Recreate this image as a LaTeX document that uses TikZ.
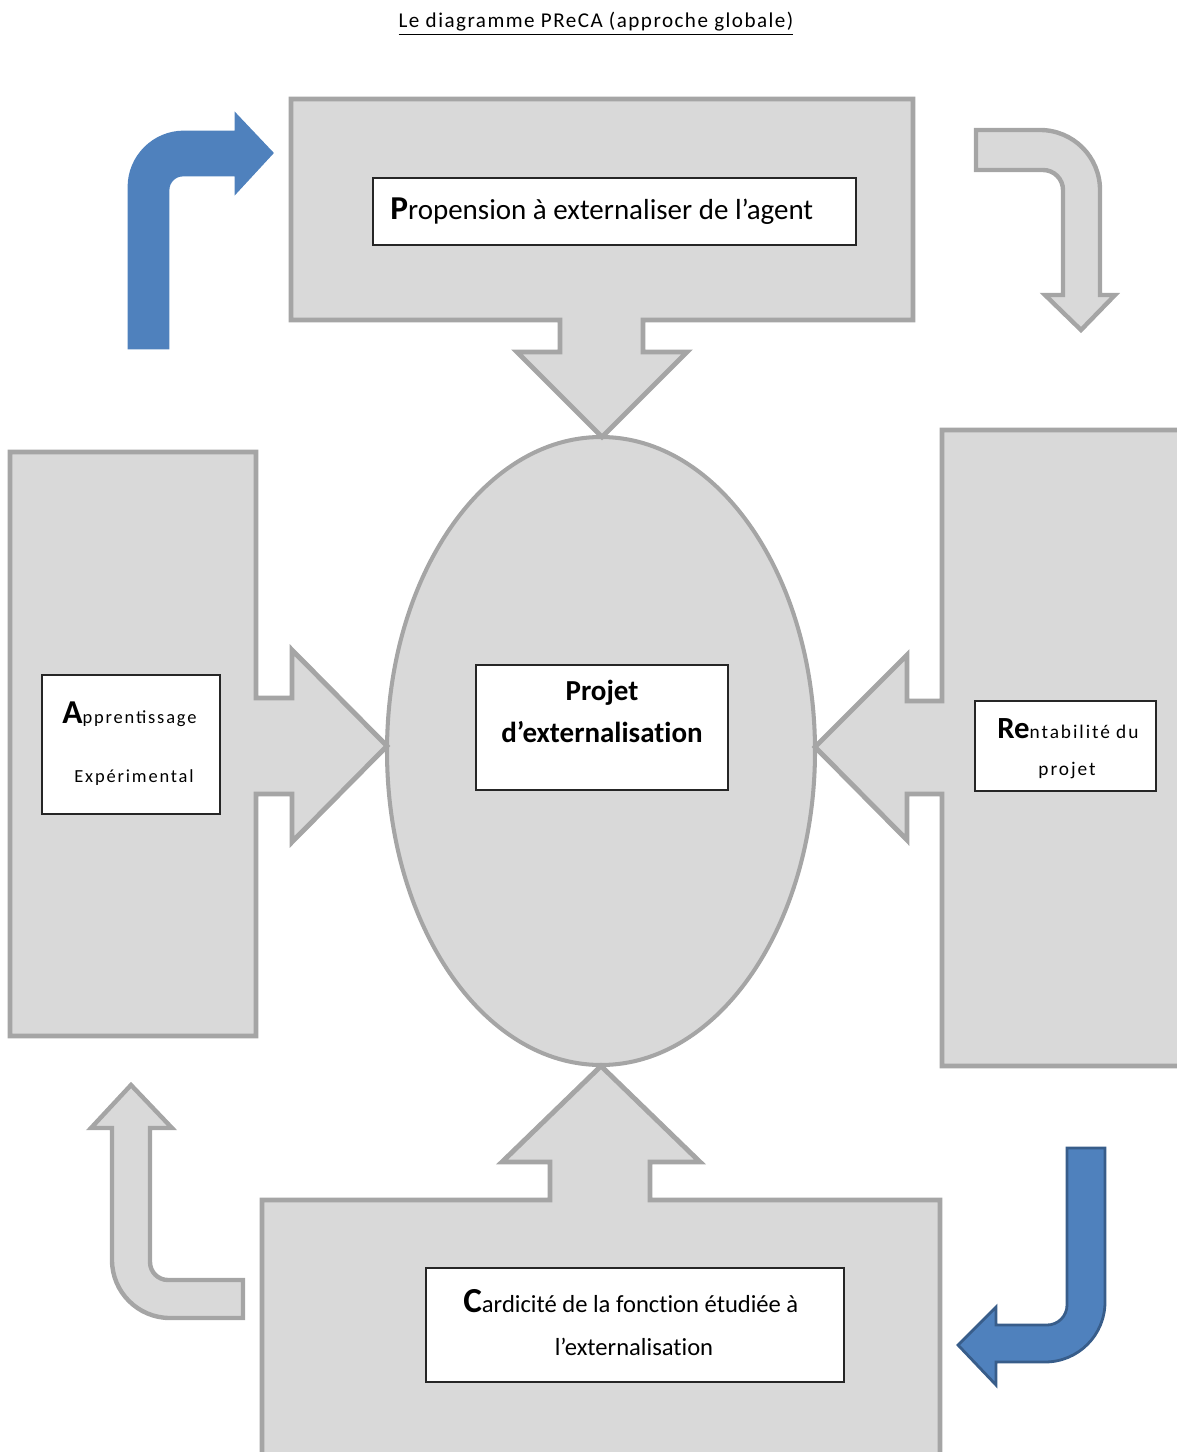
\documentclass[tikz,border=0pt]{standalone}
\usepackage{fontspec}
\setmainfont[Ligatures=NoCommon]{Carlito}
\newfontfamily\titlefont[LetterSpace=7]{Carlito}
\newfontfamily\smallfont[LetterSpace=10]{Carlito}
\usepackage{tikz}
\usetikzlibrary{calc}

\definecolor{boxgray}{HTML}{D9D9D9}
\definecolor{linegray}{HTML}{A5A5A5}
\definecolor{arrowblue}{HTML}{4F81BD}
\definecolor{darkblue}{HTML}{385D8A}

\tikzset{
  bloc/.style={fill=boxgray, draw=linegray, line width=2.8pt, line join=miter},
  cadre/.style={draw=black!85, fill=white, line width=1.1pt},
  fleche/.style={fill=boxgray, draw=linegray, line width=2.5pt},
  flechebleue/.style={fill=arrowblue, draw=darkblue, line width=1.6pt},
  texte/.style={anchor=base, inner sep=0pt}
}

\begin{document}
\begin{tikzpicture}[x=0.02cm, y=-0.02cm]
\useasboundingbox (0,0) rectangle (1176,1452);

% Title
\node[texte] (titre) at (596,28) {\titlefont\fontsize{12}{12}\selectfont\underline{Le diagramme PReCA (approche globale)}};

% Central ellipse
\draw[bloc, line width=2.3pt] (601,751) ellipse [x radius=214, y radius=314];

% Top block with arrow down
\draw[bloc] (291,99) -- (913,99) -- (913,320) -- (643,320) -- (643,352) -- (687,352)
  -- (602,437) -- (517,352) -- (560,352) -- (560,320) -- (291,320) -- cycle;

% Left block with arrow right
\draw[bloc] (10,452) -- (256,452) -- (256,698) -- (292,698) -- (292,650) -- (387,746)
  -- (292,842) -- (292,794) -- (256,794) -- (256,1036) -- (10,1036) -- cycle;

% Right block with arrow left
\draw[bloc] (942,430) -- (1190,430) -- (1190,1066) -- (942,1066) -- (942,794) -- (907,794)
  -- (907,840) -- (815,747) -- (907,655) -- (907,701) -- (942,701) -- cycle;

% Bottom block with arrow up
\draw[bloc] (262,1200) -- (550,1200) -- (550,1162) -- (502,1162) -- (601,1066) -- (700,1162)
  -- (650,1162) -- (650,1200) -- (940,1200) -- (940,1470) -- (262,1470) -- cycle;

% White frames
\draw[cadre] (373,178) rectangle (856,245);
\draw[cadre] (42,675) rectangle (220,814);
\draw[cadre] (975,701) rectangle (1156,791);
\draw[cadre] (426,1268) rectangle (844,1382);
\draw[cadre] (476,665) rectangle (728,790);

% Texts
\node[texte, anchor=base west] (propension) at (390,220)
  {{\bfseries\fontsize{19}{19}\selectfont P}\fontsize{16.5}{16.5}\selectfont ropension à externaliser de l’agent};
\node[texte] (projet1) at (602,700) {\bfseries\fontsize{16.5}{16.5}\selectfont Projet};
\node[texte] (projet2) at (602,742) {\bfseries\fontsize{16.5}{16.5}\selectfont d’externalisation};
\node[texte, anchor=base west] (apprent) at (62,723)
  {{\bfseries\fontsize{19}{19}\selectfont A}\smallfont\fontsize{10.5}{10.5}\selectfont pprentissage};
\node[texte] (experim) at (134,782) {\smallfont\fontsize{10.5}{10.5}\selectfont Expérimental};
\node[texte, anchor=base west] (rentab) at (997,738)
  {{\bfseries\fontsize{17.5}{17.5}\selectfont Re}\smallfont\fontsize{11}{11}\selectfont ntabilité du};
\node[texte] (rprojet) at (1067,775) {\smallfont\fontsize{11}{11}\selectfont projet};
\node[texte, anchor=base west] (cardic) at (463,1312)
  {{\bfseries\fontsize{20}{20}\selectfont C}\fontsize{14}{14}\selectfont ardicité de la fonction étudiée à};
\node[texte] (cextern) at (634,1355) {\fontsize{14}{14}\selectfont l’externalisation};

% Blue arrow top left (up then right)
\draw[flechebleue, draw=arrowblue] (129,348) -- (129,187) arc[start angle=180, end angle=270, radius=55]
  -- (236,132) -- (236,115) -- (272,153) -- (236,192) -- (236,175) -- (183,175)
  arc[start angle=270, end angle=180, radius=15] -- (168,348) -- cycle;

% Gray arrow top right (right then down)
\draw[fleche] (976,130) -- (1040,130) arc[start angle=270, end angle=360, radius=60]
  -- (1100,295) -- (1115,295) -- (1081,330) -- (1045,295) -- (1063,295) -- (1063,190)
  arc[start angle=0, end angle=-90, radius=20] -- (976,170) -- cycle;

% Blue arrow bottom right (down then left)
\draw[flechebleue] (1067,1148) -- (1105,1148) -- (1105,1302) arc[start angle=0, end angle=90, radius=60]
  -- (996,1362) -- (996,1385) -- (958,1345) -- (996,1307) -- (996,1325) -- (1047,1325)
  arc[start angle=90, end angle=0, radius=20] -- cycle;

% Gray arrow bottom left (left then up)
\draw[fleche] (131,1085) -- (172,1128) -- (150,1128) -- (150,1262)
  arc[start angle=180, end angle=90, radius=18] -- (243,1280) -- (243,1318) -- (170,1318)
  arc[start angle=90, end angle=180, radius=58] -- (112,1128) -- (91,1128) -- cycle;

\end{tikzpicture}
\end{document}
